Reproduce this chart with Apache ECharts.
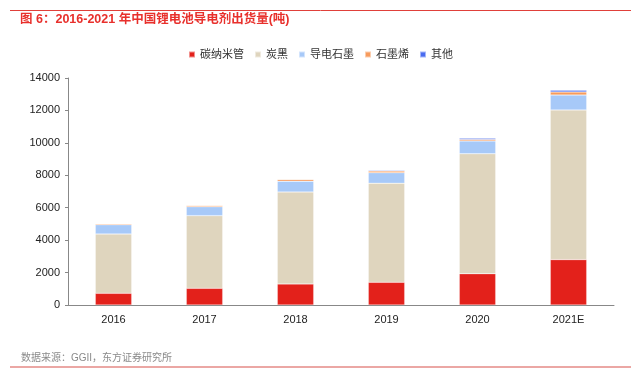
<!DOCTYPE html>
<html>
<head>
<meta charset="utf-8">
<script src="https://cdn.jsdelivr.net/npm/echarts@6/dist/echarts.min.js"></script>
<style>
  html, body { margin: 0; padding: 0; background: #fff; }
  #chart { width: 641px; height: 377px; }
</style>
</head>
<body>
<div id="chart"></div>
<script>
const years = ["2016", "2017", "2018", "2019", "2020", "2021E"];
const cnt = [720, 1030, 1300, 1400, 1930, 2800];
const carbonBlack = [3660, 4480, 5670, 6110, 7400, 9230];
const graphite = [570, 550, 660, 650, 790, 920];
const graphene = [60, 80, 110, 100, 80, 190];
const others = [10, 10, 10, 50, 80, 100];

const seriesNames = ["碳纳米管", "炭黑", "导电石墨", "石墨烯", "其他"];
const seriesData = [cnt, carbonBlack, graphite, graphene, others];
const colors = ["#e3211b", "#dfd5be", "#a7c9f8", "#f79b5c", "#4a6cf0"];

const font = "'Liberation Sans', 'Noto Sans CJK SC', sans-serif";
const chart = echarts.init(document.getElementById("chart"));

chart.setOption({
  animation: false,
  textStyle: { fontFamily: font },
  graphic: [
    { type: "line", shape: { x1: 10, y1: 10.5, x2: 631, y2: 10.5 }, style: { stroke: "#e0403a", lineWidth: 1 } },
    { type: "text", left: 20, top: 13, style: { text: "图 6：2016-2021 年中国锂电池导电剂出货量(吨)", fill: "#e8302c", font: "bold 12.5px " + font } },
    { type: "text", left: 21, top: 353, style: { text: "数据来源：GGII，东方证券研究所", fill: "#8a8a8a", font: "10px " + font } },
    { type: "line", shape: { x1: 10, y1: 367, x2: 631, y2: 367 }, style: { stroke: "#e58a86", lineWidth: 1.5 } }
  ],
  legend: {
    top: 44,
    left: "center",
    itemWidth: 6,
    itemHeight: 6,
    itemGap: 10,
    icon: "rect",
    textStyle: { fontSize: 11, color: "#333" },
    data: seriesNames
  },
  grid: { left: 68, right: 27, top: 78, bottom: 72 },
  xAxis: {
    type: "category",
    data: years,
    axisLine: { lineStyle: { color: "#888" } },
    axisTick: { inside: true, length: 4, lineStyle: { color: "#888" } },
    axisLabel: { color: "#222", fontSize: 11, margin: 9 }
  },
  yAxis: {
    type: "value",
    min: 0,
    max: 14000,
    interval: 2000,
    axisLine: { show: true, lineStyle: { color: "#888" } },
    axisTick: { show: true, length: 3, lineStyle: { color: "#888" } },
    splitLine: { show: false },
    axisLabel: { color: "#222", fontSize: 11, margin: 8, formatter: (v) => String(v) }
  },
  series: seriesNames.map((name, i) => ({
    name,
    type: "bar",
    stack: "total",
    barWidth: "40%",
    data: seriesData[i],
    itemStyle: { color: colors[i], borderColor: "rgba(255,255,255,0.5)", borderWidth: 0.5 }
  }))
});
</script>
</body>
</html>
